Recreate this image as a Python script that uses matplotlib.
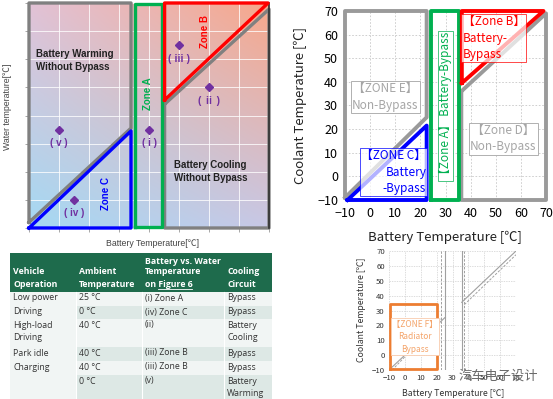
import numpy as np
import matplotlib
matplotlib.use("Agg")
import matplotlib.pyplot as plt
from matplotlib.colors import to_rgb
from matplotlib.patches import Rectangle

# ── 左上圖：水溫 vs 電池溫度 區域（格子座標 0~8）────────────────
warm_gray_x = [0, 3.4, 3.4, 0, 0]
warm_gray_y = [0.2, 3.55, 8, 8, 0.2]
zone_c_x = [0, 3.4, 3.4, 0]
zone_c_y = [0, 0, 3.45, 0]
zone_a_x = [3.52, 4.44, 4.44, 3.52, 3.52]
zone_a_y = [0.04, 0.04, 7.96, 7.96, 0.04]
zone_b_x = [4.52, 4.52, 7.97, 4.52]
zone_b_y = [4.55, 8, 8, 4.55]
cool_gray_x = [4.52, 4.52, 8, 8, 4.52]
cool_gray_y = [4.4, 0, 0, 7.78, 4.4]

point_x = [1.0, 1.5, 4.0, 5.0, 6.0]
point_y = [3.5, 1.0, 3.5, 6.5, 5.0]
point_labels = ["( v )", "( iv )", "( i )", "( ⅲ )", "( ⅱ )"]

# ── 右上圖：冷卻液溫度 vs 電池溫度 ─────────────────────────────
e_gray_x = [-10, 22.5, 22.5, -10, -10]
e_gray_y = [-9, 25, 70, 70, -9]
c_blue_x = [-9, 22.5, 22.5, -9]
c_blue_y = [-10, -10, 21.5, -10]
a_green_x = [24.2, 35.4, 35.4, 24.2, 24.2]
a_green_y = [-10, -10, 70, 70, -10]
b_red_x = [36.5, 36.5, 69, 36.5]
b_red_y = [39.5, 70, 70, 39.5]
d_gray_x = [36.3, 36.3, 70, 70, 36.3]
d_gray_y = [36, -10, -10, 69, 36]
axis_ticks = [-10, 0, 10, 20, 30, 40, 50, 60, 70]

# ── 右下圖：ZONE F ────────────────────────────────────────────
f_rect_x = [-9.6, 20.3, 20.3, -9.6, -9.6]
f_rect_y = [-9.5, -9.5, 34.2, 34.2, -9.5]
solid_v_x = [25.5, 35.8]
dashed_v_x = [22.8, 37.5]
diag_solid = [([-10, 25.5], [-10, 25.5]), ([35.8, 70], [35.5, 70])]
diag_dashed = [([-8, 23], [-10, 24.5]), ([37.5, 70], [34, 67.5])]

# ── 表格 ───────────────────────────────────────────────────────
headers = [["Vehicle", "Operation"],
           ["Ambient", "Temperature"],
           ["Battery vs. Water", "Temperature", "on Figure 6"],
           ["Cooling", "Circuit"]]
col_vehicle = ["Low power", "Driving", "High-load\nDriving", "Park idle", "Charging", ""]
col_ambient = ["25 °C", "0 °C", "40 °C", "40 °C", "40 °C", "0 °C"]
col_zone = ["(i) Zone A", "(iv) Zone C", "(ii)", "(iii) Zone B", "(iii) Zone B", "(v)"]
col_circuit = ["Bypass", "Bypass", "Battery\nCooling", "Bypass", "Bypass", "Battery\nWarming"]

W, H = 553, 399
fig = plt.figure(figsize=(W / 100, H / 100), dpi=100)
fig.patch.set_facecolor("white")


def px_axes(x0, y0, x1, y1):
    return fig.add_axes([x0 / W, 1 - y1 / H, (x1 - x0) / W, (y1 - y0) / H])


# ============================================================
# 左上圖
# ============================================================
ax1 = px_axes(29, 3, 269, 228)
# 背景四角漸層（左下藍 → 右上橘紅）
c_bl, c_tl = np.array(to_rgb("#a4d9f3")), np.array(to_rgb("#e2c2d6"))
c_br, c_tr = np.array(to_rgb("#c8c8e6")), np.array(to_rgb("#f7a78a"))
u = np.linspace(0, 1, 160)[None, :, None]
v = np.linspace(0, 1, 160)[:, None, None]
bg = (c_bl * (1 - u) * (1 - v) + c_br * u * (1 - v)
      + c_tl * (1 - u) * v + c_tr * u * v)
ax1.imshow(bg, origin="lower", extent=[0, 8, 0, 8], aspect="auto", zorder=0)
ax1.set_xlim(0, 8)
ax1.set_ylim(0, 8)
ax1.set_xticks(range(9))
ax1.set_yticks(range(9))
ax1.set_xticklabels([])
ax1.set_yticklabels([])
ax1.tick_params(length=3, color="#999999", width=0.6)
ax1.grid(color="white", linewidth=0.7, alpha=0.8)
for s in ax1.spines.values():
    s.set_visible(False)

lw1 = 2.4
ax1.plot(warm_gray_x, warm_gray_y, color="#808080", lw=lw1, clip_on=False, zorder=3)
ax1.plot(cool_gray_x, cool_gray_y, color="#808080", lw=lw1, clip_on=False, zorder=3)
ax1.plot([8, 8], [0, 8], color="#303030", lw=1.2, clip_on=False, zorder=3)
ax1.plot(zone_c_x, zone_c_y, color="#0000ff", lw=lw1, clip_on=False, zorder=4)
ax1.plot(zone_a_x, zone_a_y, color="#00b050", lw=lw1, clip_on=False, zorder=4)
ax1.plot(zone_b_x, zone_b_y, color="#ff0000", lw=lw1, clip_on=False, zorder=4)

lab_font = ["Liberation Sans", "Noto Sans CJK JP"]
ax1.plot(point_x, point_y, "D", color="#7030a0", ms=4.5, zorder=5)
for x, y, t in zip(point_x, point_y, point_labels):
    ax1.text(x, y - 0.3, t, color="#7030a0", ha="center", va="top", fontsize=7,
             fontweight="bold", family=lab_font)

ax1.text(0.24, 6.35, "Battery Warming\nWithout Bypass", fontsize=7, fontweight="bold",
         va="top", ha="left", color="#222222", family="Liberation Sans", linespacing=1.3)
ax1.text(4.82, 2.4, "Battery Cooling\nWithout Bypass", fontsize=7, fontweight="bold",
         va="top", ha="left", color="#222222", family="Liberation Sans", linespacing=1.3)
ax1.text(3.98, 4.76, "Zone A", rotation=90, color="#00b050", fontsize=7,
         fontweight="bold", ha="center", va="center", family="Liberation Sans")
ax1.text(5.86, 7.0, "Zone B", rotation=90, color="#ff0000", fontsize=7,
         fontweight="bold", ha="center", va="center", family="Liberation Sans")
ax1.text(2.56, 1.24, "Zone C", rotation=90, color="#0000ff", fontsize=7,
         fontweight="bold", ha="center", va="center", family="Liberation Sans")

fig.text(8 / W, 1 - 107 / H, "Water temperature[℃]", rotation=90, ha="center",
         va="center", fontsize=6.3, color="#444444", family=lab_font)
fig.text(152 / W, 1 - 244 / H, "Battery Temperature[℃]", ha="center", va="center",
         fontsize=6.3, color="#444444", family=lab_font)

# ============================================================
# 右上圖
# ============================================================
jp = ["Noto Sans CJK JP", "DejaVu Sans"]
ax3 = px_axes(345, 11, 546, 200)
ax3.set_xlim(-10, 70)
ax3.set_ylim(-10, 70)
ax3.set_xticks(axis_ticks)
ax3.set_yticks(axis_ticks)
ax3.grid(color="#c8c8c8", linestyle=(0, (2, 2)), linewidth=0.6)
ax3.tick_params(length=0, labelsize=9, pad=5)
for lab in ax3.get_xticklabels() + ax3.get_yticklabels():
    lab.set_family(jp)
for s in ax3.spines.values():
    s.set_visible(False)

lw3 = 2.8
ax3.plot(e_gray_x, e_gray_y, color="#9a9a9a", lw=lw3, clip_on=False, zorder=3)
ax3.plot(d_gray_x, d_gray_y, color="#9a9a9a", lw=lw3, clip_on=False, zorder=3)
ax3.plot(c_blue_x, c_blue_y, color="#0000ff", lw=lw3, clip_on=False, zorder=4)
ax3.plot(a_green_x, a_green_y, color="#00b050", lw=lw3, clip_on=False, zorder=4)
ax3.plot(b_red_x, b_red_y, color="#ff0000", lw=lw3, clip_on=False, zorder=4)

ax3.text(6, 33.5, "【ZONE E】\nNon-Bypass", color="#a6a6a6", fontsize=8.5, ha="center",
         va="center", family=jp, linespacing=1.35,
         bbox=dict(boxstyle="square,pad=0.1", fc="white", ec="#b0b0b0", lw=0.7), zorder=5)
ax3.text(53, 16, "【Zone D】\nNon-Bypass", color="#a6a6a6", fontsize=8.5, ha="center",
         va="center", family=jp, linespacing=1.35,
         bbox=dict(boxstyle="square,pad=0.1", fc="white", ec="#b0b0b0", lw=0.7), zorder=5)
ax3.text(22.3, 1.8, "【ZONE C】\nBattery\n-Bypass", color="#0000ff", fontsize=8.5,
         ha="right", va="center", multialignment="right", family=jp, linespacing=1.35,
         bbox=dict(boxstyle="square,pad=0.1", fc=(1, 1, 1, 0.7), ec="#0000ff", lw=0.5),
         zorder=5)
ax3.text(36.8, 58.5, "【Zone B】\nBattery-\nBypass", color="#ff0000", fontsize=8.5,
         ha="left", va="center", family=jp, linespacing=1.35,
         bbox=dict(boxstyle="square,pad=0.1", fc=(1, 1, 1, 0.7), ec="#ff0000", lw=0.5),
         zorder=5)
ax3.text(30, 29.8, "【Zone A】 Battery-Bypass", color="#00b050", fontsize=8.5,
         rotation=90, ha="center", va="center", family=jp,
         bbox=dict(boxstyle="square,pad=0.1", fc="white", ec="#00b050", lw=0.5), zorder=5)

fig.text(300 / W, 1 - 105 / H, "Coolant Temperature [℃]", rotation=90, ha="center",
         va="center", fontsize=9.5, color="#222222", family=jp)
fig.text(445 / W, 1 - 237 / H, "Battery Temperature [℃]", ha="center", va="center",
         fontsize=9.5, color="#222222", family=jp)

# ============================================================
# 右下圖
# ============================================================
ax4 = px_axes(389, 251, 516, 370)
ax4.set_xlim(-10, 70)
ax4.set_ylim(-10, 70)
ax4.set_xticks(axis_ticks)
ax4.set_yticks(axis_ticks)
ax4.grid(color="#cfcfcf", linestyle=(0, (2, 1.5)), linewidth=0.5)
ax4.tick_params(length=0, labelsize=5.6, pad=3, labelcolor="#333333")
for lab in ax4.get_xticklabels() + ax4.get_yticklabels():
    lab.set_family(jp)
for s in ax4.spines.values():
    s.set_visible(False)

for x in solid_v_x:
    ax4.plot([x, x], [-10, 70], color="#a0a0a0", lw=0.8, zorder=3)
for x in dashed_v_x:
    ax4.plot([x, x], [-10, 70], color="#a0a0a0", lw=0.7, ls=(0, (2.5, 1.5)), zorder=3)
for xs, ys in diag_solid:
    ax4.plot(xs, ys, color="#a0a0a0", lw=0.8, zorder=3)
for xs, ys in diag_dashed:
    ax4.plot(xs, ys, color="#a0a0a0", lw=0.7, ls=(0, (2.5, 1.5)), zorder=3)
ax4.plot(f_rect_x, f_rect_y, color="#ed7d31", lw=2.0, clip_on=False, zorder=4)
ax4.text(6.2, 12.5, "【ZONE F】\nRadiator\nBypass", color="#f4a46a", fontsize=6,
         ha="center", va="center", family=jp, linespacing=1.5,
         bbox=dict(boxstyle="square,pad=0.15", fc="white", ec="#f8cbad", lw=0.6), zorder=5)

fig.text(362 / W, 1 - 310 / H, "Coolant Temperature [℃]", rotation=90, ha="center",
         va="center", fontsize=6.3, color="#333333", family=jp)
fig.text(453 / W, 1 - 394 / H, "Battery Temperature [℃]", ha="center", va="center",
         fontsize=6.3, color="#333333", family=jp)

# 水印（原圖即與刻度文字重疊）
fig.text(498 / W, 1 - 376 / H, "汽车电子设计", ha="center", va="center", fontsize=9.5,
         color="#505050", alpha=0.85, family=["Noto Sans CJK SC"])

# ============================================================
# 表格
# ============================================================
axt = px_axes(10, 253, 272, 399)
axt.set_xlim(0, 262)
axt.set_ylim(146, 0)
axt.axis("off")

col_edges = [0, 66, 131.7, 214, 262]
row_edges = [39, 53, 66, 94, 108, 122, 146]
light, shade = "#f1f5f4", "#dde8e5"
header_green = "#1e6b4c"
tfont = ["Open Sans", "DejaVu Sans"]

axt.add_patch(Rectangle((0, 0), 262, 39, fc=header_green, ec="none"))
for ci, lines in enumerate(headers):
    ys = [18, 31.5] if len(lines) == 2 else [8, 18, 31.5]
    for line, y in zip(lines, ys):
        axt.text(col_edges[ci] + 3, y, line, color="white", fontsize=6.3,
                 fontweight="bold", va="center", ha="left", family=tfont)

# "Figure 6" 底線
fig.canvas.draw()
r = fig.canvas.get_renderer()
inv = axt.transData.inverted()
w_on = axt.text(col_edges[2] + 3, 31.5, "on ", fontsize=6.3, fontweight="bold",
                family=tfont, va="center", alpha=0)
w_full = axt.text(col_edges[2] + 3, 31.5, "on Figure 6", fontsize=6.3, fontweight="bold",
                  family=tfont, va="center", alpha=0)
x_a = inv.transform(w_on.get_window_extent(r).get_points())[1][0]
x_b = inv.transform(w_full.get_window_extent(r).get_points())[1][0]
axt.plot([x_a, x_b], [35.5, 35.5], color="white", lw=0.6)

columns = [col_vehicle, col_ambient, col_zone, col_circuit]
for ri in range(len(col_ambient)):
    y0, y1 = row_edges[ri], row_edges[ri + 1]
    fc = light if ri % 2 == 0 else shade
    for ci in range(4):
        cfc = light if ci == 0 else fc
        axt.add_patch(Rectangle((col_edges[ci], y0), col_edges[ci + 1] - col_edges[ci],
                                y1 - y0, fc=cfc, ec="none"))
        axt.text(col_edges[ci] + 3, y0 + 1.5, columns[ci][ri], fontsize=6.3,
                 color="#333333", va="top", ha="left", family=tfont, linespacing=1.5)
for x in col_edges[1:-1]:
    axt.plot([x, x], [39, 146], color="white", lw=0.8)

fig.savefig("out.png", dpi=100, facecolor="white")
